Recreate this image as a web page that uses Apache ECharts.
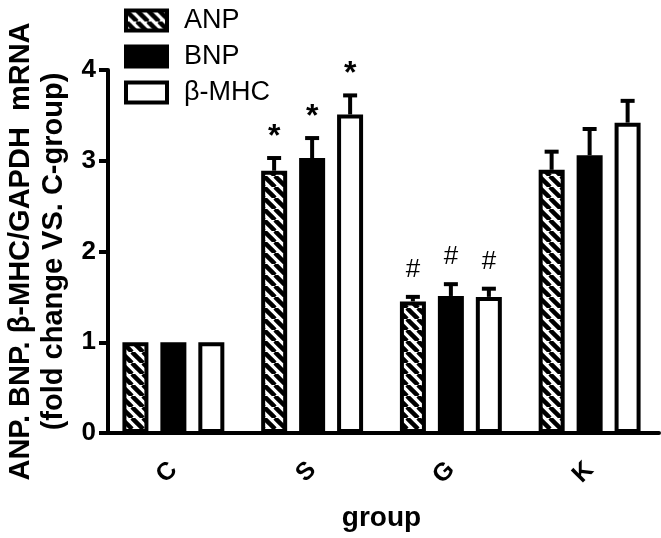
<!DOCTYPE html>
<html>
<head>
<meta charset="utf-8">
<script src="https://cdn.jsdelivr.net/npm/echarts@6/dist/echarts.min.js"></script>
<style>
  html, body { margin: 0; padding: 0; background: #fff; }
  #chart { width: 661px; height: 538px; }
</style>
</head>
<body>
<div id="chart"></div>
<script>
// groups and values (fold change vs C-group)
const groups = ['C', 'S', 'G', 'K'];
const seriesNames = ['ANP', 'BNP', 'β-MHC'];
const anp = [1, 2.89, 1.45, 2.90];
const bnp = [1, 3.03, 1.51, 3.06];
const mhc = [1, 3.51, 1.50, 3.42];
const anpErr = [0, 0.14, 0.05, 0.20];
const bnpErr = [0, 0.22, 0.13, 0.29];
const mhcErr = [0, 0.21, 0.09, 0.24];
const anpMark = ['', '*', '#', ''];
const bnpMark = ['', '*', '#', ''];
const mhcMark = ['', '*', '#', ''];
const yTicks = [0, 1, 2, 3, 4];

// hatch pattern for ANP
const pc = document.createElement('canvas');
pc.width = 11; pc.height = 11;
const ctx = pc.getContext('2d');
ctx.fillStyle = '#fff';
ctx.fillRect(0, 0, 11, 11);
ctx.strokeStyle = '#000';
ctx.lineWidth = 4.5;
[-11, 0, 11].forEach(k => {
  ctx.beginPath();
  ctx.moveTo(k, 0);
  ctx.lineTo(k + 11, 11);
  ctx.stroke();
});

const vals = [anp, bnp, mhc];
const errs = [anpErr, bnpErr, mhcErr];
const marks = [anpMark, bnpMark, mhcMark];
const fills = [{ image: pc, repeat: 'repeat' }, '#000', '#fff'];

// error bar items: [group, series, value, err, mark]
let errData = [];
groups.forEach((g, i) => {
  for (let s = 0; s < 3; s++) {
    errData.push([i, s, vals[s][i], errs[s][i], marks[s][i]]);
  }
});

const chart = echarts.init(document.getElementById('chart'));
const font = 'Liberation Sans, Arial, sans-serif';

let series = seriesNames.map((n, s) => ({
  name: n,
  type: 'bar',
  data: vals[s],
  barWidth: 26,
  barGap: '46%',
  itemStyle: { color: fills[s], borderColor: '#000', borderWidth: 4 },
  z: 2
}));

series.push({
  type: 'custom',
  data: errData,
  z: 3,
  renderItem: function (params, api) {
    const i = api.value(0), s = api.value(1);
    const v = api.value(2), e = api.value(3);
    const mark = errData[params.dataIndex][4];
    const base = api.coord([i, v]);
    const top = api.coord([i, v + e]);
    const x = base[0] + (s - 1) * 38;
    const children = [];
    if (e > 0) {
      children.push({
        type: 'line',
        shape: { x1: x, y1: base[1], x2: x, y2: top[1] },
        style: { stroke: '#000', lineWidth: 4 }
      });
      children.push({
        type: 'line',
        shape: { x1: x - 7, y1: top[1], x2: x + 7, y2: top[1] },
        style: { stroke: '#000', lineWidth: 4 }
      });
    }
    if (mark) {
      children.push({
        type: 'text',
        x: x,
        y: top[1] - (mark === '*' ? 5 : 14),
        style: {
          text: mark,
          font: (mark === '*' ? 'bold 32px ' : '26px ') + font,
          fill: '#000',
          align: 'center',
          verticalAlign: 'bottom'
        }
      });
    }
    return { type: 'group', children: children };
  }
});

chart.setOption({
  animation: false,
  grid: { left: 104, right: 2, top: 70, bottom: 105, outerBoundsMode: 'none', containLabel: false },
  legend: {
    orient: 'vertical',
    left: 119,
    top: 2,
    icon: 'rect',
    itemWidth: 41,
    itemHeight: 20,
    itemGap: 9,
    data: seriesNames,
    itemStyle: { borderWidth: 4, borderColor: '#000' },
    textStyle: { fontFamily: font, fontSize: 27, color: '#000', padding: [0, 0, 0, 12] }
  },
  xAxis: {
    type: 'category',
    data: groups,
    name: 'group',
    nameLocation: 'middle',
    nameGap: 71,
    nameTextStyle: { fontFamily: font, fontSize: 28, fontWeight: 'bold', color: '#000' },
    axisLine: { lineStyle: { color: '#000', width: 4 } },
    axisTick: { alignWithLabel: true, length: 9, lineStyle: { color: '#000', width: 4 } },
    axisLabel: { rotate: 45, margin: 33, fontFamily: font, fontSize: 25, fontWeight: 'bold', color: '#000' }
  },
  yAxis: {
    type: 'value',
    min: yTicks[0],
    max: yTicks[yTicks.length - 1],
    interval: 1,
    offset: -4,
    name: 'ANP. BNP. β-MHC/GAPDH  mRNA\n(fold change VS. C-group)',
    nameLocation: 'middle',
    nameGap: 37,
    nameTextStyle: { fontFamily: font, fontSize: 29, fontWeight: 'bold', color: '#000', lineHeight: 33 },
    splitLine: { show: false },
    axisLine: { show: true, lineStyle: { color: '#000', width: 4 } },
    axisTick: { show: true, length: 9, lineStyle: { color: '#000', width: 4 } },
    axisLabel: { margin: 12, fontFamily: font, fontSize: 26, fontWeight: 'bold', color: '#000' }
  },
  series: series
});
</script>
</body>
</html>
